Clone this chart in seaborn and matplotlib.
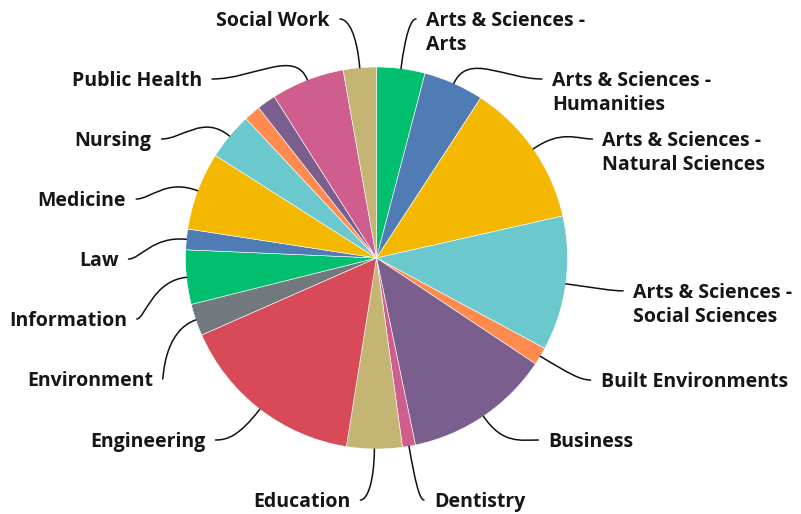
import numpy as np
import matplotlib
matplotlib.use("Agg")
import matplotlib.pyplot as plt
import seaborn as sns
from matplotlib.path import Path
from matplotlib.patches import PathPatch

# ---------------- data ----------------
categories = [
    "Arts & Sciences - Arts", "Arts & Sciences - Humanities",
    "Arts & Sciences - Natural Sciences", "Arts & Sciences - Social Sciences",
    "Built Environments", "Business", "Dentistry", "Education", "Engineering",
    "Environment", "Information", "Law", "Medicine", "Nursing",
    "(unlabeled 1)", "(unlabeled 2)", "Public Health", "Social Work",
]
labels = [
    "Arts & Sciences -\nArts", "Arts & Sciences -\nHumanities",
    "Arts & Sciences -\nNatural Sciences", "Arts & Sciences -\nSocial Sciences",
    "Built Environments", "Business", "Dentistry", "Education", "Engineering",
    "Environment", "Information", "Law", "Medicine", "Nursing",
    "", "", "Public Health", "Social Work",
]
values = [4.1, 5.1, 12.3, 11.4, 1.5, 12.4, 1.1, 4.7, 15.9,
          2.7, 4.6, 1.75, 6.6, 4.0, 1.4, 1.6, 6.2, 2.8]
palette = ["#00BF6F", "#507CB6", "#F5B800", "#6BC8CD", "#FF8B4F",
           "#7A5F8E", "#CF5E8E", "#C5B574", "#D94A59", "#72797E"]

# ---------------- figure ----------------
sns.set_theme(style="white")
plt.rcParams['font.family'] = ['Open Sans', 'DejaVu Sans']

W, H = 801, 514
fig = plt.figure(figsize=(W / 100, H / 100), dpi=100)
ax = fig.add_axes([0, 0, 1, 1])

cx, cy, R = 376.5, H - 258, 191
colors = sns.color_palette(palette, n_colors=len(palette))
slice_colors = [colors[i % len(colors)] for i in range(len(values))]

wedges, _ = ax.pie(values, colors=slice_colors, startangle=90, counterclock=False,
                   center=(cx, cy), radius=R,
                   wedgeprops=dict(edgecolor="white", linewidth=0.4))
ax.set_xlim(0, W)
ax.set_ylim(0, H)
ax.set_aspect("equal")
ax.axis("off")

# ---------------- label layout ----------------
b_nat, a_lab, b_lab = 243.0, 258.0, 243.0
gap, top_lim, bot_lim = 60.0, 239.0, -242.0
fs = 14
line_px = 24.5
cap_px = 14.0
txt_color = "#161616"

items = {"right": [], "left": []}
for w, lab in zip(wedges, labels):
    if not lab:
        continue
    mid = np.deg2rad((w.theta1 + w.theta2) / 2)
    side = "right" if np.cos(mid) >= 0 else "left"
    items[side].append(dict(mid=mid, lab=lab, y=b_nat * np.sin(mid)))

for side, lst in items.items():
    lst.sort(key=lambda d: -d["y"])
    for i, d in enumerate(lst):
        y = min(d["y"], top_lim)
        if i > 0:
            y = min(y, lst[i - 1]["y"] - gap)
        d["y"] = y
    if lst and lst[-1]["y"] < bot_lim:
        lst[-1]["y"] = bot_lim
        for i in range(len(lst) - 2, -1, -1):
            lst[i]["y"] = max(lst[i]["y"], lst[i + 1]["y"] + gap)

    sign = 1 if side == "right" else -1
    for d in lst:
        mid, y = d["mid"], d["y"]
        ax_x = R * np.cos(mid)
        ex = a_lab * np.sqrt(max(0.0, 1 - (y / b_lab) ** 2))
        ex = max(ex, abs(ax_x) + 24)
        lx = cx + sign * (ex + (1 if side == "right" else 0))
        ly = cy + y
        # leader line
        p0 = (cx + R * np.cos(mid), cy + R * np.sin(mid))
        p1 = (cx + (R + 34) * np.cos(mid), cy + (R + 34) * np.sin(mid))
        p3 = (lx - sign * 10, ly)
        p2 = (p3[0] - sign * 0.5 * abs(p3[0] - p1[0]), ly)
        path = Path([p0, p1, p2, p3],
                    [Path.MOVETO, Path.CURVE4, Path.CURVE4, Path.CURVE4])
        ax.add_patch(PathPatch(path, facecolor="none", edgecolor="#111111",
                               lw=1.1, capstyle="round"))
        # text: one line per row so the first line sits on the leader
        lines = d["lab"].split("\n")
        for k, line in enumerate(lines):
            ax.text(lx, ly - cap_px / 2 - k * line_px, line,
                    ha="left" if side == "right" else "right",
                    va="baseline", fontsize=fs, fontweight="bold",
                    color=txt_color)

fig.savefig("out.png", dpi=100)
